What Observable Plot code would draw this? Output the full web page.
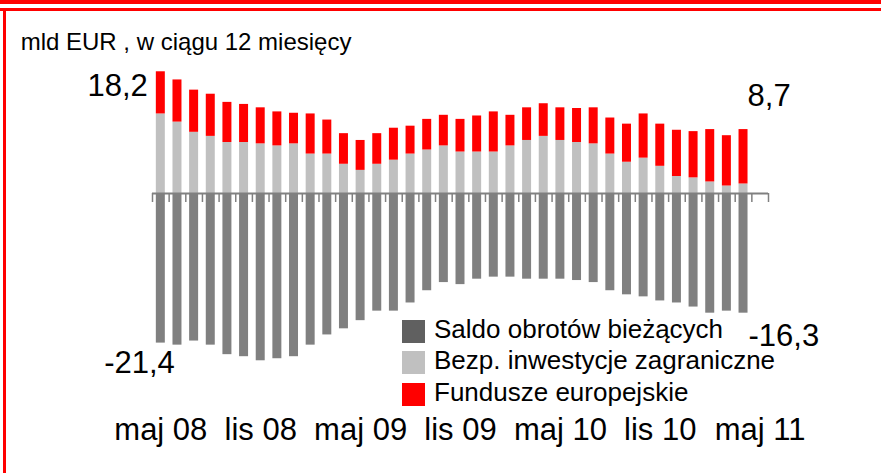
<!DOCTYPE html>
<html>
<head>
<meta charset="utf-8">
<script src="https://cdn.jsdelivr.net/npm/d3@7"></script>
<script src="https://cdn.jsdelivr.net/npm/@observablehq/plot@0.6"></script>
<style>
  html, body { margin: 0; padding: 0; background: #fff; }
  #wrap { position: relative; width: 881px; height: 473px; overflow: hidden; font-family: "Liberation Sans", Arial, sans-serif; color: #000; }
  #wrap svg { position: absolute; left: 0; top: 0; }
  .t { position: absolute; line-height: 1; white-space: nowrap; }
  .sw { position: absolute; width: 23px; height: 23px; }
  .fr { position: absolute; background: #FF0000; }
</style>
</head>
<body>
<div id="wrap"></div>
<script>
// ---- data ----
const months = ["maj 08","cze 08","lip 08","sie 08","wrz 08","paź 08","lis 08","gru 08",
  "sty 09","lut 09","mar 09","kwi 09","maj 09","cze 09","lip 09","sie 09","wrz 09","paź 09","lis 09","gru 09",
  "sty 10","lut 10","mar 10","kwi 10","maj 10","cze 10","lip 10","sie 10","wrz 10","paź 10","lis 10","gru 10",
  "sty 11","lut 11","mar 11","kwi 11","maj 11"];
const saldo = [-22.0,-22.3,-21.7,-22.3,-23.7,-24.0,-24.6,-24.3,-24.0,-22.3,-20.8,-19.9,-18.7,-17.3,-17.3,-16.1,
  -14.3,-13.1,-13.4,-12.6,-12.3,-12.3,-12.6,-12.6,-12.6,-12.8,-13.1,-14.3,-14.9,-15.2,-15.8,-16.1,-16.7,-17.6,-17.3,-17.6];
const fdi = [11.7,10.5,9.0,8.4,7.5,7.5,7.3,7.0,7.3,5.8,5.8,4.3,3.4,4.3,4.9,5.8,6.4,7.0,6.1,6.1,6.1,7.0,7.8,8.4,
  7.8,7.5,7.3,5.8,4.6,5.2,4.0,2.5,2.3,1.7,1.1,1.4];
const eu = [6.2,6.2,6.2,6.2,5.9,5.6,5.3,5.0,4.5,5.9,5.0,4.5,4.4,4.5,4.7,4.1,4.5,4.5,4.8,5.3,5.9,4.5,4.8,4.8,
  4.8,5.0,5.3,5.3,5.6,6.5,6.2,6.8,6.8,7.7,7.4,8.0];
const seriesNames = ["Saldo obrotów bieżących","Bezp. inwestycje zagraniczne","Fundusze europejskie"];
const seriesColors = ["#808080","#C0C0C0","#FF0000"];
const legendColors = ["#606060","#C0C0C0","#FF0000"];
const tickLabels = ["maj 08","lis 08","maj 09","lis 09","maj 10","lis 10","maj 11"];
const title = "mld EUR , w ciągu 12 miesięcy";
const firstTop = {month: "maj 08", value: 18.2, text: "18,2"};
const firstBottom = {month: "maj 08", value: -21.4, text: "-21,4"};
const lastTop = {month: "kwi 11", value: 8.7, text: "8,7"};
const lastBottom = {month: "kwi 11", value: -16.3, text: "-16,3"};

// ---- table ----
const rows = [];
saldo.forEach((v, i) => {
  rows.push({month: months[i], series: seriesNames[0], value: v});
  rows.push({month: months[i], series: seriesNames[1], value: fdi[i]});
  rows.push({month: months[i], series: seriesNames[2], value: eu[i]});
});

// ---- layout ----
const W = 881, H = 473, mL = 152, mR = 113, mT = 57, mB = 110;
const step = (W - mL - mR) / months.length;
const FONT = "Liberation Sans, Arial, sans-serif";

const chart = Plot.plot({
  width: W, height: H,
  marginLeft: mL, marginRight: mR, marginTop: mT, marginBottom: mB,
  style: {background: "transparent", fontFamily: FONT, color: "black", overflow: "visible"},
  x: {type: "band", domain: months, paddingInner: 0.46, paddingOuter: 0.23, align: 0.5, round: false, label: null},
  y: {domain: [-25, 20], axis: null, label: null},
  color: {domain: seriesNames, range: seriesColors},
  marks: [
    Plot.barY(rows, Plot.stackY({x: "month", y: "value", fill: "series"})),
    Plot.ruleY([0], {stroke: "#808080", strokeWidth: 2}),
    Plot.ruleX(months, {x: d => d, y1: 0, y2: -1.32, dx: -step / 2, stroke: "#808080", strokeWidth: 1.5}),
    Plot.ruleX([months[months.length - 1]], {x: d => d, y1: 0, y2: -1.32, dx: step / 2, stroke: "#808080", strokeWidth: 1.5}),
    Plot.axisX({ticks: tickLabels, tickSize: 0, tickPadding: 54, fontSize: 31, fill: "black", fontFamily: FONT, label: null}),
    Plot.text([firstTop], {x: "month", y: "value", text: "text", textAnchor: "end", lineAnchor: "bottom", dx: -13, dy: 25.8, fontSize: 31, fill: "black"}),
    Plot.text([firstBottom], {x: "month", y: "value", text: "text", textAnchor: "end", lineAnchor: "bottom", dx: 14, dy: 33.5, fontSize: 31, fill: "black"}),
    Plot.text([lastTop], {x: "month", y: "value", text: "text", textAnchor: "start", lineAnchor: "bottom", dx: 4, dy: -28.8, fontSize: 31, fill: "black"}),
    Plot.text([lastBottom], {x: "month", y: "value", text: "text", textAnchor: "start", lineAnchor: "bottom", dx: 5, dy: 42, fontSize: 31, fill: "black"})
  ]
});

const wrap = document.getElementById("wrap");
wrap.appendChild(chart);

function addText(str, left, baseline, size) {
  const d = document.createElement("div");
  d.className = "t";
  d.textContent = str;
  d.style.fontSize = size + "px";
  d.style.left = left + "px";
  d.style.top = (baseline - 0.8465 * size) + "px";
  wrap.appendChild(d);
}
addText(title, 20.7, 50, 24);

const legendBaselines = [338.3, 369.5, 400.8];
const swatchTops = [320, 351, 383];
seriesNames.forEach((name, i) => {
  const s = document.createElement("div");
  s.className = "sw";
  s.style.left = "402px";
  s.style.top = swatchTops[i] + "px";
  s.style.background = legendColors[i];
  wrap.appendChild(s);
  addText(name, 434, legendBaselines[i], 26);
});

// frame
[[0, 0, 881, 4], [0, 8, 881, 2.7], [3, 8, 2.6, 465]].forEach(([l, t, w, h]) => {
  const f = document.createElement("div");
  f.className = "fr";
  f.style.left = l + "px"; f.style.top = t + "px";
  f.style.width = w + "px"; f.style.height = h + "px";
  wrap.appendChild(f);
});
</script>
</body>
</html>
